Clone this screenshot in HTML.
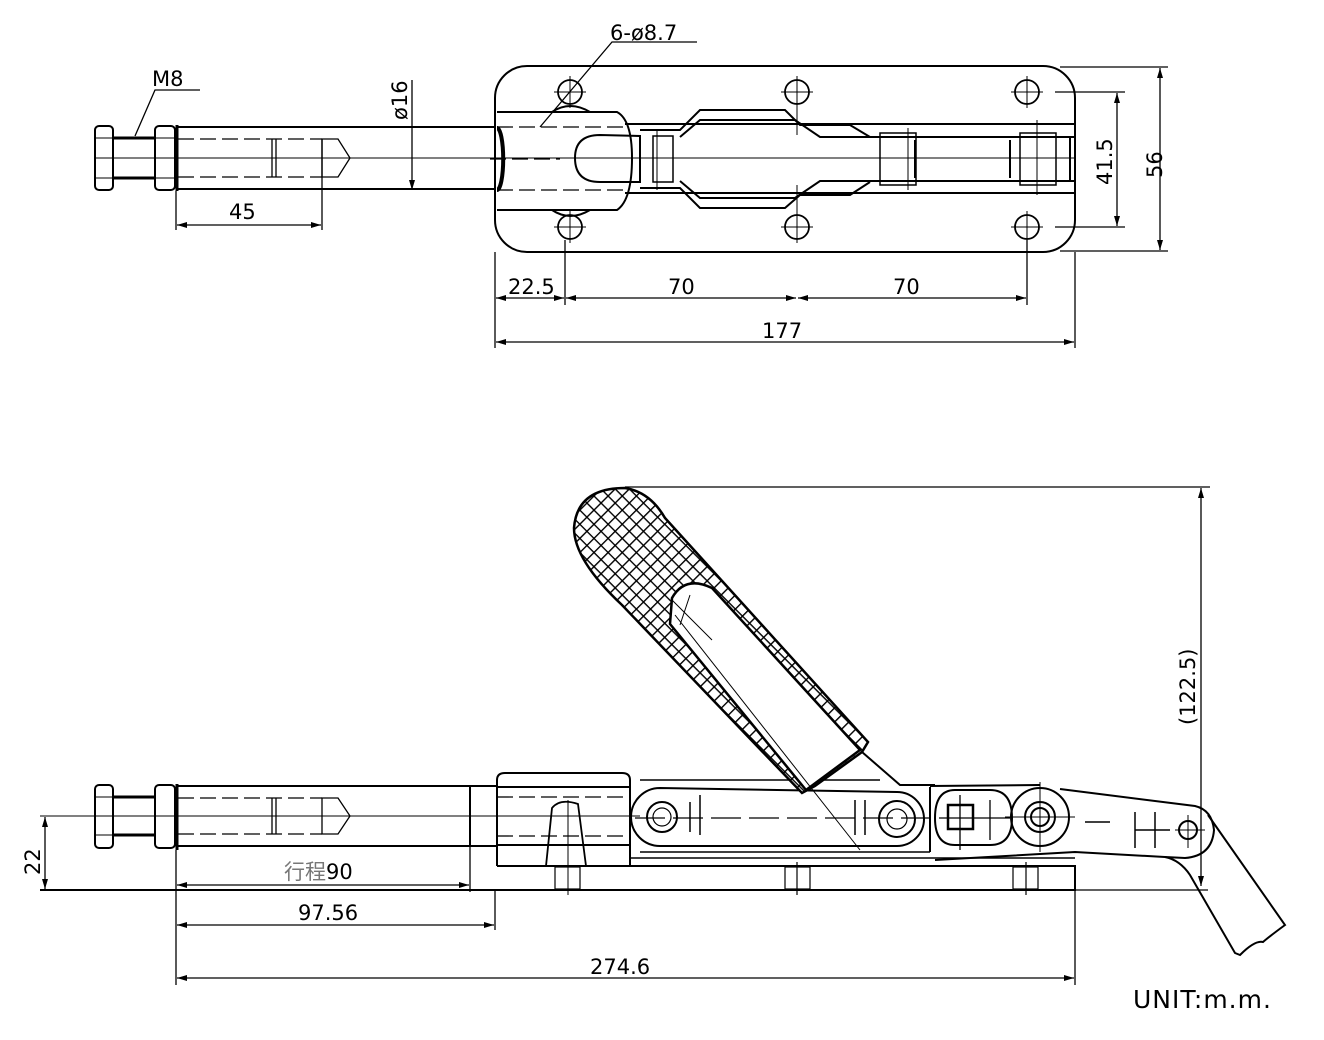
<!DOCTYPE html>
<html><head><meta charset="utf-8"><style>
html,body{margin:0;padding:0;background:#fff;}
svg{display:block;}
text{font-family:"DejaVu Sans","Liberation Sans","Noto Sans CJK SC",sans-serif;fill:#000;}
</style></head><body>
<svg width="1324" height="1040" viewBox="0 0 1324 1040" xmlns="http://www.w3.org/2000/svg">
<defs>
<pattern id="hatch" width="10" height="10" patternUnits="userSpaceOnUse" patternTransform="rotate(45)">
<rect width="10" height="10" fill="#fff"/>
<path d="M0 0H10M0 0V10" stroke="#000" stroke-width="2.8"/>
</pattern>
<marker id="ar" viewBox="0 0 10 6" refX="10" refY="3" markerWidth="12" markerHeight="6" orient="auto-start-reverse" markerUnits="userSpaceOnUse">
<path d="M0 0L10 3L0 6Z" fill="#000"/></marker>
</defs>
<g fill="none" stroke="#000" stroke-width="2">
<!-- ===== TOP VIEW ===== -->
<rect x="95" y="126" width="18" height="64" rx="4"/>
<line x1="95" y1="138" x2="113" y2="138" stroke-width="1"/><line x1="95" y1="178" x2="113" y2="178" stroke-width="1"/>
<line x1="113" y1="138" x2="155" y2="138" stroke-width="3"/><line x1="113" y1="178" x2="155" y2="178" stroke-width="3"/>
<rect x="155" y="126" width="20" height="64" rx="4"/>
<line x1="155" y1="138" x2="175" y2="138" stroke-width="1"/><line x1="155" y1="178" x2="175" y2="178" stroke-width="1"/>
<line x1="177" y1="125" x2="177" y2="191" stroke-width="3"/>
<line x1="177" y1="127" x2="495" y2="127"/><line x1="177" y1="189" x2="495" y2="189"/>
<g stroke-width="1.3" stroke-dasharray="16,6"><line x1="178" y1="139" x2="322" y2="139"/><line x1="178" y1="177" x2="322" y2="177"/></g>
<line x1="272" y1="139" x2="272" y2="177" stroke-width="1.3"/><line x1="276" y1="139" x2="276" y2="177" stroke-width="1.3"/>
<path d="M322 139L338 139L350 158L338 177L322 177Z" stroke-width="1.3"/>
<line x1="322" y1="139" x2="322" y2="230" stroke-width="1.3"/>
<line x1="95" y1="158" x2="495" y2="158" stroke-width="1"/>
<!-- plate -->
<rect x="495" y="66" width="580" height="186" rx="32"/>
<path d="M497 112 L617 112 Q632 120 632 158 Q632 200 617 210 L497 210" />
<path d="M497 128 A6 30 0 0 1 497 190" stroke-width="4"/>
<path d="M552 112 Q570 100 590 112" /><path d="M552 210 Q570 222 590 210"/>
<g stroke-width="1.3" stroke-dasharray="16,6"><line x1="497" y1="127" x2="625" y2="127"/><line x1="497" y1="190" x2="625" y2="190"/><line x1="490" y1="159" x2="560" y2="159"/></g>
<path d="M625 124 L1075 124 M625 193 L1075 193"/>
<path d="M600 135 Q575 135 575 158 Q575 182 600 182 L640 182 L640 136 L600 135Z"/>
<!-- links -->
<path d="M640 130 L680 130 L700 110 L785 110 L800 125 L850 125 L870 137 M640 188 L680 188 L700 208 L785 208 L800 195 L850 195 L870 182"/>
<path d="M680 137 L700 120 L795 120 L820 137 L1075 137 M680 181 L700 198 L795 198 L820 181 L1075 181"/>
<rect x="653" y="136" width="20" height="46" stroke-width="1.5"/>
<rect x="880" y="133" width="36" height="52" stroke-width="1.5"/>
<rect x="1020" y="133" width="36" height="52" stroke-width="1.5"/>
<line x1="1070" y1="137" x2="1070" y2="181"/>
<line x1="915" y1="140" x2="915" y2="178"/><line x1="1010" y1="140" x2="1010" y2="178"/>
<g stroke-width="1.8">
<circle cx="570" cy="92" r="12"/><circle cx="797" cy="92" r="12"/><circle cx="1027" cy="92" r="12"/>
<circle cx="570" cy="227" r="12"/><circle cx="797" cy="227" r="12"/><circle cx="1027" cy="227" r="12"/>
</g>
<g stroke-width="1">
<path d="M554 92H586M570 76V108M781 92H813M797 76V135M1011 92H1043M1027 76V108"/>
<path d="M554 227H586M570 211V243M781 227H813M797 185V243M1011 227H1043M1027 211V243"/>
<path d="M488 158H1075M657 130V190M908 128V190M1037 120V195"/>
</g>
<g stroke-width="1.3">
<path d="M135 136 L155 90 L200 90"/>
<line x1="412" y1="80" x2="412" y2="190" marker-end="url(#ar)"/>
<path d="M540 127 L612 42 L697 42"/>
<line x1="176" y1="191" x2="176" y2="230"/>
<line x1="177" y1="225" x2="321" y2="225" marker-start="url(#ar)" marker-end="url(#ar)"/>
<line x1="1055" y1="92" x2="1125" y2="92"/><line x1="1055" y1="227" x2="1125" y2="227"/>
<line x1="1117" y1="93" x2="1117" y2="226" marker-start="url(#ar)" marker-end="url(#ar)"/>
<line x1="1060" y1="67" x2="1168" y2="67"/><line x1="1060" y1="251" x2="1168" y2="251"/>
<line x1="1160" y1="68" x2="1160" y2="250" marker-start="url(#ar)" marker-end="url(#ar)"/>
<line x1="495" y1="252" x2="495" y2="348"/><line x1="565" y1="240" x2="565" y2="305"/>
<line x1="1027" y1="240" x2="1027" y2="305"/><line x1="1075" y1="252" x2="1075" y2="348"/>
<line x1="496" y1="298" x2="564" y2="298" marker-start="url(#ar)" marker-end="url(#ar)"/>
<line x1="566" y1="298" x2="796" y2="298" marker-start="url(#ar)" marker-end="url(#ar)"/>
<line x1="798" y1="298" x2="1026" y2="298" marker-start="url(#ar)" marker-end="url(#ar)"/>
<line x1="496" y1="342" x2="1074" y2="342" marker-start="url(#ar)" marker-end="url(#ar)"/>
</g>

<!-- ===== SIDE VIEW ===== -->
<rect x="95" y="785" width="18" height="63" rx="4"/>
<line x1="95" y1="797" x2="113" y2="797" stroke-width="1"/><line x1="95" y1="835" x2="113" y2="835" stroke-width="1"/>
<line x1="113" y1="797" x2="155" y2="797" stroke-width="3"/><line x1="113" y1="835" x2="155" y2="835" stroke-width="3"/>
<rect x="155" y="785" width="20" height="63" rx="4"/>
<line x1="177" y1="784" x2="177" y2="850" stroke-width="3"/>
<path d="M177 786 L470 786 M177 846 L470 846"/>
<rect x="470" y="786" width="27" height="60"/>
<g stroke-width="1.3" stroke-dasharray="16,6"><line x1="178" y1="798" x2="322" y2="798"/><line x1="178" y1="834" x2="322" y2="834"/></g>
<line x1="272" y1="798" x2="272" y2="834" stroke-width="1.3"/><line x1="276" y1="798" x2="276" y2="834" stroke-width="1.3"/>
<path d="M322 798L338 798L350 816L338 834L322 834Z" stroke-width="1.3"/>
<line x1="40" y1="816" x2="640" y2="816" stroke-width="1"/>
<path d="M497 866 L497 780 Q497 773 505 773 L622 773 Q630 773 630 780 L630 866"/>
<line x1="497" y1="787" x2="630" y2="787"/><line x1="497" y1="845" x2="630" y2="845"/>
<g stroke-width="1.3" stroke-dasharray="16,6"><line x1="497" y1="797" x2="628" y2="797"/><line x1="497" y1="836" x2="628" y2="836"/></g>
<path d="M546 866 L552 808 Q560 798 578 804 L586 866" stroke-width="1.8"/>
<line x1="568" y1="800" x2="568" y2="895" stroke-width="1"/>
<path d="M497 866 L1075 866 L1075 890 L40 890"/>
<path d="M630 858 L1075 858" stroke-width="1.5"/>
<g stroke-width="1.2"><rect x="555" y="867" width="25" height="22"/><rect x="785" y="867" width="25" height="22"/><rect x="1013" y="867" width="25" height="22"/>
<path d="M797 862V895M1026 862V895"/></g>
<path d="M660 788 L897 792 A26 26 0 0 1 897 846 L660 846 A29 29 0 0 1 660 788Z"/>
<circle cx="662" cy="817" r="15"/><circle cx="662" cy="817" r="9" stroke-width="1.2"/>
<circle cx="897" cy="819" r="18"/><circle cx="897" cy="819" r="10" stroke-width="1.2"/>
<path d="M640 780 L880 780 M640 852 L930 852" stroke-width="1.5"/>
<path d="M690 802V832M700 795V835M855 800V835M865 800V835" stroke-width="1.5"/>
<path d="M635 818 L940 818" stroke-width="1.3" stroke-dasharray="30,8"/>
<path d="M955 790 L990 790 Q1012 790 1012 818 Q1012 845 990 845 L955 845 Q935 845 935 818 Q935 790 955 790Z"/>
<rect x="948" y="805" width="25" height="24" stroke-width="2.5"/>
<path d="M940 818H1010M960 795V850M990 800V840" stroke-width="1.3"/>
<path d="M930 786 L1040 785 M930 787 L930 852"/>
<circle cx="1040" cy="817" r="29"/>
<circle cx="1040" cy="817" r="15"/><circle cx="1040" cy="817" r="9"/>
<path d="M1040 782V852M1005 817H1075" stroke-width="1"/>
<path d="M1060 789 L1195 806 Q1212 810 1214 830 Q1212 856 1185 858 L1165 857 L1075 852 L935 860"/>
<circle cx="1188" cy="830" r="9"/>
<path d="M1175 830H1205M1188 815V848" stroke-width="1"/>
<path d="M1085 822H1110M1135 812V848M1155 812V848M1135 830H1170" stroke-width="1.5"/>
<path d="M1165 857 Q1180 860 1190 875 L1235 953 L1240 955 Q1255 940 1263 942 Q1270 936 1285 925 L1208 815"/>
<!-- handle -->
<path d="M625 488 Q577 488 574 528 Q574 560 622 605 L802 793 L815 786 L862 752 L868 742 L665 518 Q650 492 625 488Z" fill="url(#hatch)" stroke-width="2.5"/>
<path d="M670 624 L806 790 L860 750 L712 588 Q685 575 672 598 Z" fill="#fff" stroke-width="2.5"/>
<path d="M672 600 L712 640 M690 595 L680 625" stroke-width="1"/>
<path d="M862 752 L900 785 L935 785" />
<path d="M675 615 L860 850" stroke-width="1"/>
<g stroke-width="1.3">
<line x1="625" y1="487" x2="1210" y2="487"/>
<line x1="1201" y1="488" x2="1201" y2="886" marker-start="url(#ar)" marker-end="url(#ar)"/>
<line x1="1075" y1="890" x2="1208" y2="890"/>
<line x1="45" y1="817" x2="45" y2="889" marker-start="url(#ar)" marker-end="url(#ar)"/>
<line x1="176" y1="850" x2="176" y2="985"/>
<line x1="470" y1="846" x2="470" y2="892"/>
<line x1="495" y1="890" x2="495" y2="930"/>
<line x1="1075" y1="890" x2="1075" y2="985"/>
<line x1="177" y1="885" x2="469" y2="885" marker-start="url(#ar)" marker-end="url(#ar)"/>
<line x1="177" y1="925" x2="494" y2="925" marker-start="url(#ar)" marker-end="url(#ar)"/>
<line x1="177" y1="978" x2="1074" y2="978" marker-start="url(#ar)" marker-end="url(#ar)"/>
</g>
</g>
<g font-size="21">
<text x="152" y="86">M8</text>
<text x="610" y="40">6-ø8.7</text>
<text x="229" y="219">45</text>
<text x="407" y="120" transform="rotate(-90 407 120)">ø16</text>
<text x="508" y="294">22.5</text>
<text x="668" y="294">70</text>
<text x="893" y="294">70</text>
<text x="762" y="338">177</text>
<text x="1112" y="185" transform="rotate(-90 1112 185)">41.5</text>
<text x="1162" y="178" transform="rotate(-90 1162 178)">56</text>
<text x="1195" y="725" transform="rotate(-90 1195 725)">(122.5)</text>
<text x="40" y="875" transform="rotate(-90 40 875)">22</text>
<text x="284" y="879" style="fill:#777">行程<tspan style="fill:#000">90</tspan></text>
<text x="298" y="920">97.56</text>
<text x="590" y="974">274.6</text>
<text x="1133" y="1008" font-size="25" letter-spacing="1">UNIT:m.m.</text>
</g>
</svg>
</body></html>
